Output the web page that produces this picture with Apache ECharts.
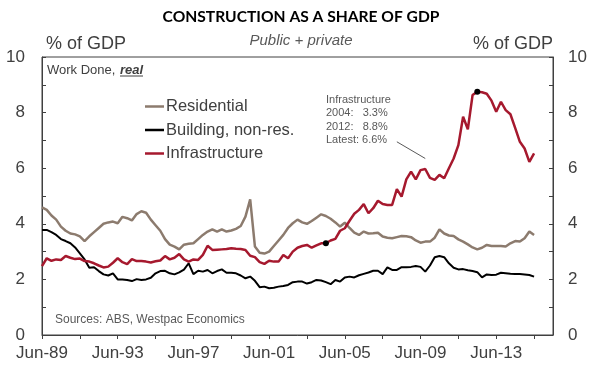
<!DOCTYPE html>
<html><head><meta charset="utf-8">
<script src="https://cdn.jsdelivr.net/npm/echarts@6/dist/echarts.min.js"></script>
<style>html,body{margin:0;padding:0;background:#fff}#c{width:602px;height:375px}</style>
</head><body><div id="c"></div>
<script>
// Quarterly categories Jun-89 .. Jun-16
const quarterMonths = ['Jun', 'Sep', 'Dec', 'Mar'];
const firstYear = 1989;
const quarterCount = 109;
const categories = [];
for (let i = 0; i < quarterCount; i++) {
  const yr = firstYear + Math.floor((i + 1) / 4);
  categories.push(quarterMonths[i % 4] + '-' + String(yr).slice(2));
}

const residential = [
  4.59, 4.5, 4.3, 4.15, 3.9, 3.75, 3.65, 3.62, 3.55, 3.38,
  3.55, 3.7, 3.85, 4.0, 4.05, 4.08, 4.02, 4.25, 4.2, 4.12,
  4.35, 4.45, 4.4, 4.15, 3.95, 3.75, 3.45, 3.25, 3.18, 3.08,
  3.25, 3.28, 3.3, 3.45, 3.6, 3.72, 3.8, 3.72, 3.8, 3.72,
  3.76, 3.82, 3.92, 4.26, 4.88, 3.18, 2.96, 2.93, 3.0, 3.2,
  3.4, 3.6, 3.85, 4.02, 4.15, 4.05, 4.0, 4.1, 4.22, 4.34,
  4.28, 4.18, 4.05, 3.9, 4.04, 3.85, 3.68, 3.6, 3.72, 3.65,
  3.66, 3.68, 3.54, 3.5, 3.48, 3.52, 3.56, 3.55, 3.52, 3.4,
  3.32, 3.36, 3.36, 3.5, 3.8, 3.65, 3.58, 3.56, 3.44, 3.36,
  3.26, 3.15, 3.08, 3.14, 3.24, 3.2, 3.2, 3.2, 3.18, 3.3,
  3.38, 3.36, 3.48, 3.72, 3.6
];
const buildingNonRes = [
  3.78, 3.78, 3.7, 3.6, 3.45, 3.38, 3.3, 3.15, 2.94, 2.72,
  2.42, 2.44, 2.3, 2.18, 2.14, 2.22, 2.0, 2.0, 1.98, 1.94,
  2.01, 1.98, 2.0, 2.06, 2.22, 2.3, 2.31, 2.22, 2.18, 2.25,
  2.35, 2.58, 2.19, 2.31, 2.28, 2.34, 2.22, 2.3, 2.36, 2.24,
  2.24, 2.22, 2.14, 2.04, 2.1, 1.95, 1.72, 1.74, 1.68, 1.7,
  1.74, 1.76, 1.8, 1.9, 1.92, 1.92, 1.85, 1.9, 1.98, 1.96,
  1.9, 1.83, 1.98, 1.92, 2.07, 2.1, 2.07, 2.15, 2.2, 2.25,
  2.31, 2.31, 2.19, 2.43, 2.34, 2.34, 2.44, 2.44, 2.45, 2.48,
  2.45, 2.28, 2.5, 2.8, 2.84, 2.8, 2.58, 2.42, 2.36, 2.37,
  2.33, 2.3, 2.26, 2.07, 2.18, 2.16, 2.17, 2.24, 2.22, 2.2,
  2.19, 2.19, 2.18, 2.16, 2.1
];
const infrastructure = [
  2.48, 2.76, 2.67, 2.72, 2.7, 2.84, 2.78, 2.73, 2.75, 2.66,
  2.64, 2.58, 2.5, 2.43, 2.46, 2.6, 2.76, 2.62, 2.55, 2.73,
  2.66, 2.66, 2.64, 2.61, 2.65, 2.68, 2.84, 2.72, 2.78, 2.91,
  2.72, 2.64, 2.72, 2.7, 2.88, 3.21, 3.06, 3.07, 3.08, 3.09,
  3.12, 3.1, 3.09, 3.06, 2.85, 2.8, 2.62, 2.56, 2.67, 2.64,
  2.64, 2.88, 2.76, 3.0, 3.14, 3.2, 3.24, 3.14, 3.22, 3.3,
  3.3, 3.4, 3.46, 3.75, 3.84, 4.11, 4.36, 4.5, 4.71, 4.38,
  4.56, 4.83, 4.71, 4.68, 4.68, 5.25, 4.98, 5.6, 5.88, 5.6,
  5.93, 5.97, 5.65, 5.58, 5.76, 5.64, 6.0, 6.35, 6.83, 7.85,
  7.4, 8.63, 8.75, 8.73, 8.68, 8.43, 8.03, 8.39, 8.09, 7.94,
  7.45, 6.95, 6.71, 6.23, 6.53
];
const seriesNames = ['Residential', 'Building, non-res.', 'Infrastructure'];
const yTicks = [0, 2, 4, 6, 8, 10];
const highlightIdx = [60, 92]; // Jun-04, Jun-12
const noteLines = ['Infrastructure', '2004:   3.3%', '2012:   8.8%', 'Latest: 6.6%'];

const FONT = 'Liberation Sans, Arial, sans-serif';
const TXT = '#404040';
const GREY = '#595959';

const chart = echarts.init(document.getElementById('c'), null, {renderer: 'canvas'});
const yAxisBase = {
  type: 'value', min: 0, max: 10, interval: 1,
  axisLine: {show: true, lineStyle: {color: TXT, width: 1}},
  axisTick: {show: true, inside: true, length: 4, lineStyle: {color: TXT}},
  splitLine: {show: false},
  axisLabel: {
    fontFamily: FONT, fontSize: 17, color: TXT,
    formatter: v => (yTicks.indexOf(v) >= 0 ? String(v) : '')
  }
};
chart.setOption({
  animation: false,
  backgroundColor: '#fff',
  grid: {left: 42, right: 49, top: 57, bottom: 40, show: true, borderColor: TXT, borderWidth: 1, backgroundColor: 'transparent'},
  legend: {
    data: seriesNames, orient: 'vertical', left: 145, top: 98, padding: 0,
    icon: 'rect', itemWidth: 19, itemHeight: 2.5, itemGap: 6.5,
    textStyle: {fontFamily: FONT, fontSize: 16.5, color: TXT, padding: [0, 0, 0, -3]}
  },
  xAxis: {
    type: 'category', data: categories, boundaryGap: false,
    axisLine: {show: true, lineStyle: {color: TXT, width: 1}},
    axisTick: {show: true, interval: 7, length: 4, lineStyle: {color: TXT}},
    axisLabel: {interval: 15, fontFamily: FONT, fontSize: 17, color: TXT, margin: 10}
  },
  yAxis: [
    Object.assign({}, yAxisBase, {position: 'left', axisLabel: Object.assign({}, yAxisBase.axisLabel, {margin: 17})}),
    Object.assign({}, yAxisBase, {position: 'right', axisLabel: Object.assign({}, yAxisBase.axisLabel, {margin: 15})})
  ],
  series: [
    {name: seriesNames[0], type: 'line', data: residential, symbol: 'none', z: 2,
     lineStyle: {color: '#8C7B6E', width: 2.5}, itemStyle: {color: '#8C7B6E'}},
    {name: seriesNames[1], type: 'line', data: buildingNonRes, symbol: 'none', z: 3,
     lineStyle: {color: '#000000', width: 2}, itemStyle: {color: '#000000'}},
    {name: seriesNames[2], type: 'line', data: infrastructure, symbol: 'none', z: 4,
     lineStyle: {color: '#A6192E', width: 2.5}, itemStyle: {color: '#A6192E'},
     markPoint: {
       symbol: 'circle', symbolSize: 6, itemStyle: {color: '#000'}, label: {show: false}, silent: true,
       data: highlightIdx.map(i => ({coord: [categories[i], infrastructure[i]]}))
     },
     markLine: {
       symbol: 'none', silent: true, label: {show: false},
       lineStyle: {color: GREY, width: 1, type: 'solid'},
       data: [[{coord: ['Mar-08', 6.95]}, {coord: ['Sep-09', 6.35]}]]
     }}
  ],
  graphic: [
    {type: 'text', style: {text: 'CONSTRUCTION AS A SHARE OF GDP', x: 301, y: 17, textAlign: 'center', textVerticalAlign: 'middle',
      fontFamily: 'Lato, sans-serif', fontWeight: 'bold', fontSize: 15.6, fill: '#000'}},
    {type: 'text', style: {text: 'Public + private', x: 301, y: 41, textAlign: 'center', textVerticalAlign: 'middle',
      fontFamily: FONT, fontStyle: 'italic', fontSize: 15, fill: GREY}},
    {type: 'text', style: {text: '% of GDP', x: 46, y: 44, textAlign: 'left', textVerticalAlign: 'middle',
      fontFamily: FONT, fontSize: 18, fill: TXT}},
    {type: 'text', style: {text: '% of GDP', x: 553, y: 44, textAlign: 'right', textVerticalAlign: 'middle',
      fontFamily: FONT, fontSize: 18, fill: TXT}},
    {type: 'text', style: {text: 'Work Done,', x: 47, y: 70, textAlign: 'left', textVerticalAlign: 'middle',
      fontFamily: FONT, fontSize: 13, fill: TXT}},
    {type: 'text', style: {text: 'real', x: 120, y: 70, textAlign: 'left', textVerticalAlign: 'middle',
      fontFamily: FONT, fontSize: 13, fontWeight: 'bold', fontStyle: 'italic', fill: TXT}},
    {type: 'line', shape: {x1: 120, y1: 76, x2: 143, y2: 76}, style: {stroke: TXT, lineWidth: 1}},
    {type: 'text', style: {text: noteLines.join('\n'), x: 326, y: 93, textAlign: 'left', textVerticalAlign: 'top',
      fontFamily: FONT, fontSize: 11, lineHeight: 13.5, fill: GREY}},
    {type: 'text', style: {text: 'Sources: ABS, Westpac Economics', x: 55, y: 320, textAlign: 'left', textVerticalAlign: 'middle',
      fontFamily: FONT, fontSize: 12, fill: GREY}}
  ]
});
</script></body></html>
